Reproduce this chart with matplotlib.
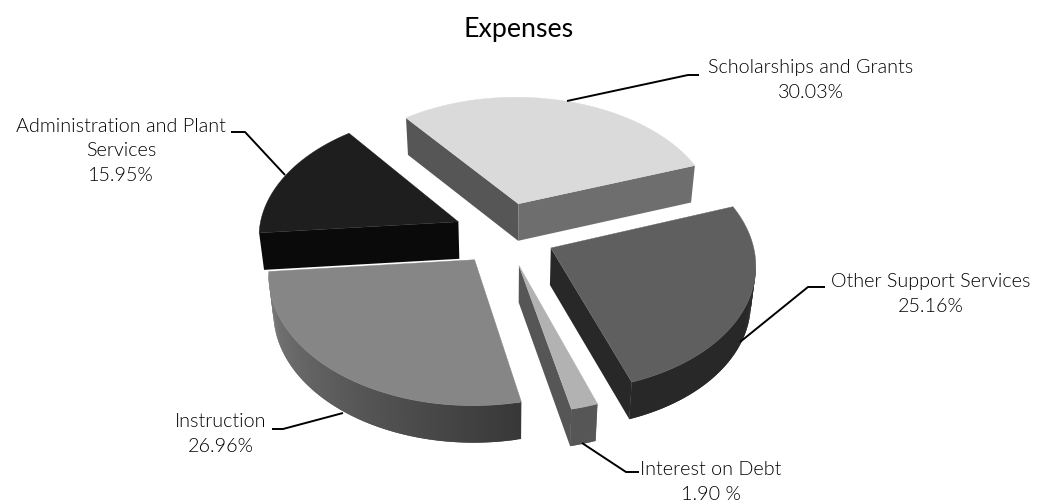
import numpy as np
import matplotlib
matplotlib.use("Agg")
import matplotlib.pyplot as plt
from matplotlib.patches import Polygon

plt.rcParams['font.family'] = ['Lato', 'DejaVu Sans']

# shares run clockwise from the right-hand edge of Scholarships and Grants
categories = ["Scholarships and Grants", "Other Support Services", "Interest on Debt",
              "Instruction", "Administration and Plant\nServices"]
values = [30.03, 25.16, 1.90, 26.96, 15.95]
pct_fmt = ["{:.2f}%", "{:.2f}%", "{:.2f} %", "{:.2f}%", "{:.2f}%"]

top_colors = ["#dadada", "#5f5f5f", "#b2b2b2", "#868686", "#1e1e1e"]
# side faces: first radial edge, last radial edge, rim start, rim end
side_colors = [("#565656", "#6e6e6e", "#6a6a6a", "#6a6a6a"),
               ("#282828", "#282828", "#282828", "#282828"),
               ("#4e4e4e", "#565656", "#4c4c4c", "#4c4c4c"),
               ("#3a3a3a", "#3a3a3a", "#383838", "#7c7c7c"),
               ("#0a0a0a", "#0a0a0a", "#101010", "#0a0a0a")]

# disc -> pixel projection, rim start angle, pull-out of the slices, extrusion
H = (204.367, -30.9459, -39.5149, -90.6909, 0.0422, 0.0995, 504.4456, 234.2198)
start_angle = -3.7878
explode = [0.2621, 0.2529, 0.2539, 0.2494, 0.2528]
depth = 37
center_x = 505
taper = 0.98

label_xy = [(811, 80), (931, 294), (711, 482), (221, 434), (121, 151)]
leaders = [[(567, 101), (688, 75), (699, 75)],
           [(740, 342), (808, 287), (825, 287)],
           [(582, 443), (626, 472), (639, 472)],
           [(343, 413), (283, 429), (272, 429)],
           [(285, 175), (245, 132), (231, 132)]]


def project(u, v):
    a, b, c, d, g, h, tx, ty = H
    w = 1 + g * u + h * v
    return (a * u + b * v + tx) / w, (c * u + d * v + ty) / w


def lower(pt):
    # bottom of the extruded slab, pulled in slightly towards the middle
    return (center_x + (pt[0] - center_x) * taper, pt[1] + depth)


def mix(c0, c1, t):
    a = np.array(matplotlib.colors.to_rgb(c0))
    b = np.array(matplotlib.colors.to_rgb(c1))
    return tuple(a + (b - a) * t)


def wall(ax, pts, color, z):
    outline = list(pts) + [lower(p) for p in reversed(pts)]
    ax.add_patch(Polygon(outline, closed=True, facecolor=color, edgecolor="none", zorder=z))


fig = plt.figure(figsize=(10.37, 5.04), dpi=100)
ax = fig.add_axes([0, 0, 1, 1])
ax.set_xlim(0, 1037)
ax.set_ylim(504, 0)
ax.axis("off")

sweeps = np.array(values) / sum(values) * 360
hi = start_angle + sweeps[0]
for i, sweep in enumerate(sweeps):
    lo = hi - sweep
    mid = np.radians((hi + lo) / 2)
    cu, cv = explode[i] * np.cos(mid), explode[i] * np.sin(mid)
    theta = np.radians(np.linspace(hi, lo, 90))
    rim = [project(cu + np.cos(t), cv + np.sin(t)) for t in theta]
    tip = project(cu, cv)
    z = 2 + i

    # the outline runs clockwise on screen, so an edge heading left faces the viewer
    first_face, last_face, rim_start, rim_end = side_colors[i]
    if rim[0][0] < tip[0]:
        wall(ax, [tip, rim[0]], first_face, z)
    if tip[0] < rim[-1][0]:
        wall(ax, [rim[-1], tip], last_face, z)
    front = [k for k in range(len(rim) - 1) if rim[k + 1][0] < rim[k][0]]
    for n, k in enumerate(front):
        # each strip runs one step past the next so no seams show
        last = front[-1] + 2
        wall(ax, rim[k:min(k + 3, last)], mix(rim_start, rim_end, n / max(len(front) - 1, 1)), z)
    ax.add_patch(Polygon([tip] + rim, closed=True, facecolor=top_colors[i],
                         edgecolor=top_colors[i], linewidth=0.3, zorder=z + 0.5))

    ax.plot(*zip(*leaders[i]), color="black", linewidth=1.4, zorder=10,
            solid_capstyle="butt", solid_joinstyle="round")
    ax.text(label_xy[i][0], label_xy[i][1], categories[i] + "\n" + pct_fmt[i].format(values[i]),
            ha="center", va="center", fontsize=14.2, fontweight=300, color="black",
            linespacing=1.52, zorder=11)
    hi = lo

ax.text(519, 29, "Expenses", ha="center", va="center", fontsize=19.3, color="black")

fig.savefig("out.png", dpi=100)
